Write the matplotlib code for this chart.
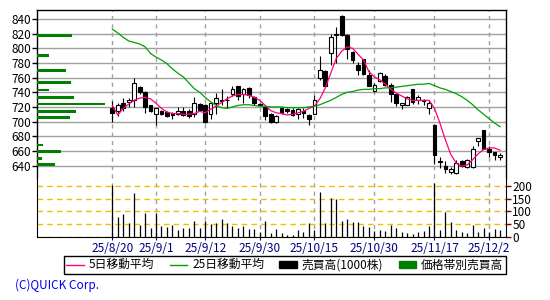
import numpy as np
import matplotlib.pyplot as plt
from matplotlib.lines import Line2D
from matplotlib.patches import Patch

# Japanese text needs a CJK font, DejaVu as fallback
plt.rcParams['font.family'] = ['Noto Sans CJK JP', 'DejaVu Sans']

# Trading days shown on the chart
DATES = [
  '2025-08-20', '2025-08-21', '2025-08-22', '2025-08-25', '2025-08-26', '2025-08-27',
  '2025-08-28', '2025-08-29', '2025-09-01', '2025-09-02', '2025-09-03', '2025-09-04',
  '2025-09-05', '2025-09-08', '2025-09-09', '2025-09-10', '2025-09-11', '2025-09-12',
  '2025-09-16', '2025-09-17', '2025-09-18', '2025-09-19', '2025-09-22', '2025-09-24',
  '2025-09-25', '2025-09-26', '2025-09-29', '2025-09-30', '2025-10-01', '2025-10-02',
  '2025-10-03', '2025-10-06', '2025-10-07', '2025-10-08', '2025-10-09', '2025-10-10',
  '2025-10-14', '2025-10-15', '2025-10-16', '2025-10-17', '2025-10-20', '2025-10-21',
  '2025-10-22', '2025-10-23', '2025-10-24', '2025-10-27', '2025-10-28', '2025-10-29',
  '2025-10-30', '2025-10-31', '2025-11-04', '2025-11-05', '2025-11-06', '2025-11-07',
  '2025-11-10', '2025-11-11', '2025-11-12', '2025-11-13', '2025-11-14', '2025-11-17',
  '2025-11-18', '2025-11-19', '2025-11-20', '2025-11-21', '2025-11-25', '2025-11-26',
  '2025-11-27', '2025-11-28', '2025-12-01', '2025-12-02', '2025-12-03', '2025-12-04',
]

# Daily prices (yen)
OPEN = [718, 714, 725, 727, 730, 747, 740, 722, 711, 714, 713, 710, 711, 714, 714, 710,
        724, 722, 711, 725, 730, 730, 737, 749, 737, 746, 734, 724, 720, 710, 699, 718,
        717, 716, 711, 714, 709, 711, 759, 769, 793, 818, 844, 818, 795, 777, 785, 763,
        742, 756, 762, 750, 737, 722, 723, 744, 730, 729, 718, 695, 646, 640, 631, 630,
        646, 638, 638, 673, 688, 663, 658, 651]
HIGH = [728, 725, 732, 732, 760, 748, 742, 723, 719, 716, 715, 713, 720, 720, 717, 733,
        726, 724, 726, 739, 745, 735, 749, 749, 746, 747, 735, 725, 721, 712, 709, 720,
        719, 718, 718, 718, 710, 736, 790, 771, 820, 829, 845, 819, 797, 782, 786, 770,
        752, 768, 765, 752, 738, 726, 735, 745, 736, 731, 729, 697, 652, 646, 638, 647,
        648, 649, 666, 678, 688, 667, 659, 657]
LOW = [699, 708, 714, 720, 720, 738, 712, 713, 696, 709, 706, 703, 709, 707, 705, 706,
       715, 698, 704, 711, 722, 718, 735, 730, 726, 732, 723, 721, 702, 698, 698, 710,
       712, 707, 704, 705, 696, 710, 757, 747, 777, 780, 817, 786, 780, 764, 763, 748,
       741, 754, 748, 727, 721, 717, 722, 724, 724, 722, 711, 642, 637, 630, 629, 629,
       638, 637, 637, 666, 662, 652, 648, 647]
CLOSE = [712, 722, 718, 730, 752, 740, 720, 715, 718, 711, 708, 709, 714, 709, 707, 726,
         716, 699, 725, 732, 728, 729, 745, 735, 745, 736, 725, 722, 707, 699, 708, 712,
         714, 709, 717, 712, 703, 729, 771, 749, 815, 819, 818, 799, 784, 770, 765, 749,
         750, 766, 750, 737, 725, 725, 733, 727, 733, 728, 725, 655, 645, 635, 635, 644,
         640, 648, 663, 678, 663, 658, 654, 654]

# Moving averages as drawn on the chart
MA5 = [722, 709, 718, 724, 729, 732, 733, 731, 725, 718, 713, 711, 711, 710, 710, 711,
       714, 712, 717, 721, 726, 731, 735, 737, 737, 736, 733, 729, 722, 715, 712, 711,
       709, 710, 712, 714, 718, 721, 731, 746, 766, 786, 796, 802, 800, 792, 784, 768,
       761, 757, 751, 744, 739, 735, 731, 729, 729, 729, 729, 718, 698, 675, 655, 643,
       639, 641, 648, 656, 662, 664, 664, 661]
MA25 = [826, 821, 815, 810, 808, 806, 802, 793, 788, 784, 779, 772, 766, 761, 753, 745,
        740, 733, 727, 722, 719, 718, 720, 722, 723, 723, 722, 721, 721, 720, 720, 720,
        719, 719, 719, 719, 720, 721, 723, 726, 729, 733, 737, 740, 741, 743, 744, 744,
        745, 745, 746, 746, 747, 748, 749, 750, 751, 751, 752, 749, 746, 744, 741, 738,
        734, 729, 723, 716, 710, 704, 698, 693]

# Daily volume (1000 shares)
VOLUME = [205, 78, 90, 55, 174, 47, 95, 34, 94, 41, 38, 47, 26, 34, 34, 62, 34, 60, 51,
          55, 70, 55, 43, 34, 43, 32, 32, 18, 63, 16, 31, 16, 6, 6, 26, 18, 55, 26, 176,
          53, 153, 149, 62, 70, 57, 58, 41, 38, 24, 26, 24, 48, 35, 18, 13, 11, 19, 22,
          43, 211, 26, 96, 58, 26, 18, 16, 47, 20, 35, 17, 31, 28]

# Volume by price band
BAND_PRICE = [817, 790, 770, 753, 743, 733, 724, 714, 706, 668, 659, 650, 641]
BAND_VOLUME = [385, 130, 320, 375, 130, 405, 750, 430, 365, 65, 265, 55, 200]

TICK_DATES = ['2025-08-20', '2025-09-01', '2025-09-12', '2025-09-30',
              '2025-10-15', '2025-10-30', '2025-11-17', '2025-12-02']

GRID_GRAY = '#a0a0a0'
NAVY = '#000080'


def tick_label(d: str) -> str:
  y, m, day = d.split('-')
  return f'{y[2:]}/{int(m)}/{int(day)}'


def draw_candles(ax, x, o, h, l, c):
  up = c >= o
  ax.vlines(x, l, h, color='black', lw=0.8, zorder=2)
  bottom = np.minimum(o, c)
  height = np.maximum(np.abs(c - o), 0.7)
  ax.bar(x[up], height[up], bottom=bottom[up], width=0.68,
         facecolor='white', edgecolor='black', lw=0.8, zorder=3)
  ax.bar(x[~up], height[~up], bottom=bottom[~up], width=0.68,
         facecolor='black', edgecolor='black', lw=0.8, zorder=3)


def main():
  x = np.arange(len(DATES))
  o, h, l, c = (np.array(a, dtype=float) for a in (OPEN, HIGH, LOW, CLOSE))
  tick_idx = [DATES.index(d) for d in TICK_DATES]
  xlim = (-13.8, 72.1)

  fig = plt.figure(figsize=(5.5, 3), dpi=100)
  left, width = 37 / 550, 469 / 550
  ax = fig.add_axes([left, 1 - 178 / 300, width, 168 / 300])
  vax = fig.add_axes([left, 1 - 236.7 / 300, width, 58.7 / 300])

  # price panel
  ax.set_xlim(*xlim)
  ax.set_ylim(623, 852.3)
  ax.set_yticks(range(640, 841, 20))
  ax.set_xticks(tick_idx)
  ax.grid(axis='y', color=GRID_GRAY, lw=1)
  ax.grid(axis='x', color=GRID_GRAY, lw=1, ls=(0, (3, 3)))
  ax.tick_params(axis='y', direction='out', length=3.5, width=1, pad=1,
                 labelsize=8.5, colors='black')
  ax.tick_params(axis='x', length=0, labelbottom=False)
  ax.spines['bottom'].set_visible(False)
  for s in ('top', 'left', 'right'):
    ax.spines[s].set_linewidth(1)
  ax.set_axisbelow(True)

  draw_candles(ax, x, o, h, l, c)
  ax.plot(x, MA5, color='#ff0080', lw=0.9, zorder=4)
  ax.plot(x, MA25, color='#00a000', lw=0.9, zorder=4)

  # volume by price band, drawn from the left edge
  bax = ax.twiny()
  bax.barh(BAND_PRICE, BAND_VOLUME, height=3.8, color='#008000', zorder=3)
  bax.set_xlim(0, 5160)
  bax.set_ylim(ax.get_ylim())
  bax.set_xticks([])
  for s in bax.spines.values():
    s.set_visible(False)

  # volume panel
  vax.set_xlim(*xlim)
  vax.set_ylim(0, 231.7)
  vax.vlines(x, 0, VOLUME, color='black', lw=0.9, zorder=3)
  vax.set_yticks([0, 50, 100, 150, 200])
  vax.set_xticks(tick_idx)
  vax.set_xticklabels([tick_label(d) for d in TICK_DATES])
  vax.grid(axis='y', color='#f0c000', lw=1, ls=(0, (4, 3)))
  vax.grid(axis='x', color=GRID_GRAY, lw=1, ls=(0, (3, 3)))
  vax.set_axisbelow(True)
  vax.yaxis.tick_right()
  vax.tick_params(axis='y', direction='out', length=3.5, width=1, pad=1,
                  labelsize=8.5, color='#800000', labelcolor='black')
  vax.tick_params(axis='x', direction='out', length=2, color=NAVY, pad=2,
                  labelsize=8.5, labelcolor=NAVY)
  vax.spines['top'].set_visible(False)

  handles = [
    Line2D([], [], color='#ff0080', lw=1),
    Line2D([], [], color='#00a000', lw=1),
    Patch(facecolor='black', edgecolor='black'),
    Patch(facecolor='#008000', edgecolor='#008000'),
  ]
  labels = ['5日移動平均', '25日移動平均', '売買高(1000株)', '価格帯別売買高']
  leg = fig.legend(handles, labels, loc='center', bbox_to_anchor=(0.518, 0.117),
                   ncol=4, fontsize=8.5, frameon=True, fancybox=False,
                   edgecolor='black', framealpha=1, borderpad=0.2,
                   handlelength=1.5, handleheight=0.5, handletextpad=0.4,
                   columnspacing=1.3, borderaxespad=0)
  leg.get_frame().set_linewidth(1)

  fig.text(15 / 550, 1 - 285 / 300, '(C)QUICK Corp.', color='#0000ee',
           fontsize=8.5, va='center', ha='left')

  fig.savefig('out.png', dpi=100, facecolor='white')


if __name__ == '__main__':
  main()
